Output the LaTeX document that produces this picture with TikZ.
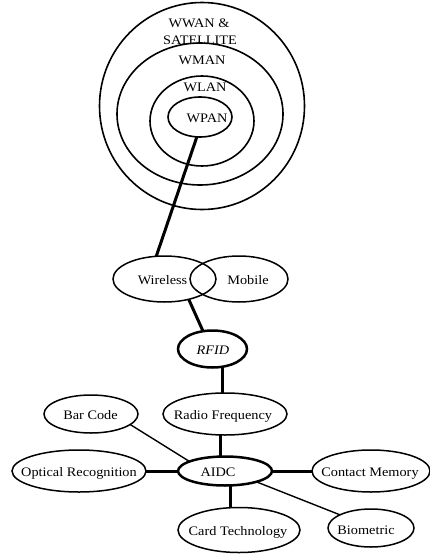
\documentclass[tikz,border=0pt]{standalone}
\usepackage{fontspec}
\setmainfont{Liberation Serif}[FakeStretch=1.1]
\usetikzlibrary{shapes.geometric}
\begin{document}
\begin{tikzpicture}[x=1pt,y=-1pt,
  font=\fontsize{13}{15}\selectfont,
  ring/.style={ellipse,draw,line width=1.6pt,inner sep=0pt,outer sep=0pt},
  ell/.style={ellipse,draw,line width=1.5pt,inner sep=0pt,outer sep=0pt},
  wellr/.style={ell,fill=white},
  boldell/.style={ell,fill=white,line width=2.5pt},
  heavy/.style={line width=3pt},
  light/.style={line width=1.4pt},
  txt/.style={inner sep=0pt,text height=9pt,text depth=0pt}]
\useasboundingbox (0,0) rectangle (430,557);

% concentric network rings
\node[ring,minimum width=205pt,minimum height=207pt] (wwan) at (202,106) {};
\node[ring,minimum width=166pt,minimum height=142pt] (wman) at (200,114) {};
\node[ring,minimum width=104pt,minimum height=90pt] (wlan) at (202,121) {};
\node[ring,minimum width=64pt,minimum height=40pt] (wpan) at (200,117) {};
\node[txt] (t-wwan) at (199,23) {WWAN \&};
\node[txt] (t-sat) at (200,40) {SATELLITE};
\node[txt] (t-wman) at (202,60) {WMAN};
\node[txt] (t-wlan) at (205,87) {WLAN};
\node[txt] (t-wpan) at (207,118) {WPAN};

% wireless / mobile
\node[ell,minimum width=103pt,minimum height=46pt] (wireless) at (164.5,279) {};
\node[ell,minimum width=98pt,minimum height=46pt] (mobile) at (239,279) {};
\node[txt] (t-wireless) at (162.5,280) {Wireless};
\node[txt] (t-mobile) at (248,280) {Mobile};

% RFID
\node[boldell,minimum width=69pt,minimum height=37pt] (rfid) at (212.5,349) {};
\node[txt] (t-rfid) at (213,350) {\itshape RFID};

% AIDC technologies
\node[wellr,minimum width=124pt,minimum height=42pt] (rf) at (225,414) {};
\node[wellr,minimum width=94pt,minimum height=38pt] (barcode) at (91,414) {};
\node[boldell,minimum width=94pt,minimum height=29pt] (aidc) at (225,471) {};
\node[wellr,minimum width=134pt,minimum height=42pt] (optical) at (79,471) {};
\node[wellr,minimum width=118pt,minimum height=42pt] (contact) at (371,471) {};
\node[wellr,minimum width=122pt,minimum height=45pt] (card) at (239,530) {};
\node[wellr,minimum width=86pt,minimum height=38pt] (bio) at (371,528) {};

\node[txt] (t-rf) at (223,415) {Radio Frequency};
\node[txt] (t-barcode) at (90.5,415) {Bar Code};
\node[txt] (t-aidc) at (218,472) {AIDC};
\node[txt] (t-optical) at (79,472) {Optical Recognition};
\node[txt] (t-contact) at (370,472) {Contact Memory};
\node[txt] (t-card) at (238,531) {Card Technology};
\node[txt] (t-bio) at (366,530) {Biometric};

% connectors
\draw[heavy] (wpan.-99) -- (wireless.110);
\draw[heavy] (wireless.-40) -- (rfid.118);
\draw[heavy] ([xshift=-3pt]rf.north) -- ([xshift=-3pt]rf.north |- rfid.south);
\draw[heavy] ([xshift=-5pt]rf.south) -- ([xshift=-5pt]rf.south |- aidc.north);
\draw[heavy] (optical) -- (aidc);
\draw[heavy] (aidc) -- (contact);
\draw[heavy] ([xshift=5pt]aidc.south) -- ([xshift=5pt]aidc.south |- card.north);
\draw[light] (barcode.-15) -- (aidc.165);
\draw[light] (aidc.-19) -- (bio.157);
\end{tikzpicture}
\end{document}
